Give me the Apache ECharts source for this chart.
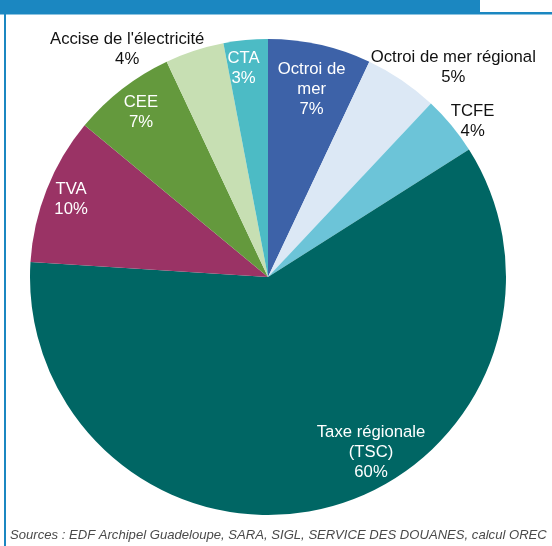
<!DOCTYPE html>
<html>
<head>
<meta charset="utf-8">
<script src="https://cdn.jsdelivr.net/npm/echarts@6/dist/echarts.min.js"></script>
<style>
  html, body { margin: 0; padding: 0; background: #ffffff; }
  #chart { width: 552px; height: 546px; }
</style>
</head>
<body>
<div id="chart"></div>
<script>
// Tax components, clockwise from 12 o'clock
const categories = [
  'Octroi de\nmer',
  'Octroi de mer régional',
  'TCFE',
  'Taxe régionale\n(TSC)',
  'TVA',
  'CEE',
  "Accise de l'électricité",
  'CTA'
];
const shares = [7, 5, 4, 60, 10, 7, 4, 3];

const sliceColors = ['#3d62a8', '#dce8f5', '#6cc4d8', '#006664', '#9a3365', '#64993d', '#c7dfb3', '#4cbbc5'];
const labelColors = ['#ffffff', '#111111', '#111111', '#ffffff', '#ffffff', '#ffffff', '#111111', '#ffffff'];
// label anchor per slice: [distance as fraction of radius, angle in degrees clockwise from top]
const labelSpots = [
  [0.809, 13.1], [1.175, 41.5], [1.081, 52.7], [0.853, 149.5],
  [0.890, 291.6], [0.875, 322.4], [1.126, 328.3], [0.882, 353.3]
];

const CX = 268, CY = 277, R = 238;
const BLUE = '#1b87c1';

const chart = echarts.init(document.getElementById('chart'), null, { renderer: 'canvas' });

chart.setOption({
  animation: false,
  title: {
    text: 'Sources : EDF Archipel Guadeloupe, SARA, SIGL, SERVICE DES DOUANES, calcul OREC',
    left: 10,
    top: 529,
    padding: 0,
    textStyle: {
      fontFamily: 'Liberation Sans, Arial, sans-serif',
      fontStyle: 'italic',
      fontWeight: 'normal',
      fontSize: 13.1,
      color: '#4a4a4a'
    }
  },
  graphic: [
    { type: 'rect', shape: { x: 0, y: 0, width: 480, height: 13 }, style: { fill: BLUE } },
    { type: 'rect', shape: { x: 0, y: 12, width: 552, height: 2.5 }, style: { fill: BLUE } },
    { type: 'rect', shape: { x: 4, y: 12, width: 2, height: 534 }, style: { fill: BLUE } }
  ],
  series: [{
    type: 'pie',
    center: [CX, CY],
    radius: [0, R],
    startAngle: 90,
    clockwise: true,
    avoidLabelOverlap: false,
    labelLine: { show: false },
    label: {
      show: true,
      position: 'inside',
      formatter: p => p.name + '\n' + p.value + '%',
      fontFamily: 'Liberation Sans, Arial, sans-serif',
      fontSize: 16.7,
      lineHeight: 20,
      align: 'center'
    },
    labelLayout: function (params) {
      const spot = labelSpots[params.dataIndex];
      const a = spot[1] * Math.PI / 180;
      return {
        x: CX + spot[0] * R * Math.sin(a),
        y: CY - spot[0] * R * Math.cos(a),
        align: 'center',
        verticalAlign: 'middle'
      };
    },
    emphasis: { disabled: true },
    data: categories.map((name, i) => ({
      name: name,
      value: shares[i],
      itemStyle: { color: sliceColors[i] },
      label: { color: labelColors[i] }
    }))
  }]
});
</script>
</body>
</html>
